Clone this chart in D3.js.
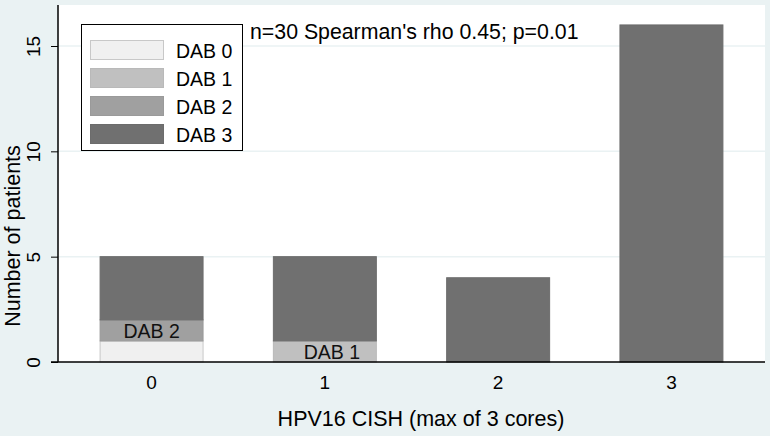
<!DOCTYPE html>
<html><head><meta charset="utf-8">
<script src="https://cdn.jsdelivr.net/npm/d3@7"></script>
<style>body{margin:0;background:#EAF2F3;}svg{display:block;font-family:Arial,"Liberation Sans",sans-serif;}</style>
</head><body>
<svg id="c" width="770" height="436"></svg>
<script>
const categories = ["0","1","2","3"];
const seriesNames = ["DAB 0","DAB 1","DAB 2","DAB 3"];
const dab0 = [1,0,0,0];
const dab1 = [0,1,0,0];
const dab2 = [1,0,0,0];
const dab3 = [3,4,4,16];
const yTicks = [0,5,10,15];
const colors = ["#F0F0F0","#C0C0C0","#A0A0A0","#707070"];
const barLabels = [{cat:"0", series:"DAB 2", text:"DAB 2", dx:0},{cat:"1", series:"DAB 1", text:"DAB 1", dx:7}];
const annotation = "n=30 Spearman's rho 0.45; p=0.01";

const svg = d3.select("#c");
const L=58, R=765, B=362, T=5;
const x = d3.scaleBand().domain(categories).range([L,R]).paddingInner(0.4).paddingOuter(0.24);
const y = d3.scaleLinear().domain([0,15]).range([B,46]);

svg.append("rect").attr("width",770).attr("height",436).attr("fill","#EAF2F3");
svg.append("rect").attr("x",L).attr("y",T).attr("width",R-L).attr("height",B-T).attr("fill","#fff");

// gridlines
svg.append("g").selectAll("line").data(yTicks.filter(d=>d>0)).join("line")
  .attr("x1",L).attr("x2",R).attr("y1",d=>y(d)).attr("y2",d=>y(d))
  .attr("stroke","#EAF2F3").attr("stroke-width",1.5);

const rows = categories.map((c,i)=>({cat:c,"DAB 0":dab0[i],"DAB 1":dab1[i],"DAB 2":dab2[i],"DAB 3":dab3[i]}));
const stack = d3.stack().keys(seriesNames)(rows);

stack.forEach((s,si)=>{
  svg.append("g").selectAll("rect").data(s.filter(d=>d[1]-d[0]>0)).join("rect")
    .attr("x",d=>x(d.data.cat)+0.5).attr("width",x.bandwidth()-1)
    .attr("y",d=>y(d[1])).attr("height",d=>y(d[0])-y(d[1]))
    .attr("fill",colors[si])
    .attr("stroke", si===0 ? "#C8C8C8" : d3.color(colors[si]).darker(0.1))
    .attr("stroke-width",1);
});

// bar labels
barLabels.forEach(b=>{
  const si = seriesNames.indexOf(b.series);
  const d = stack[si].find(e=>e.data.cat===b.cat);
  svg.append("text").attr("x",x(b.cat)+x.bandwidth()/2+b.dx).attr("y",(y(d[0])+y(d[1]))/2+7.5)
    .attr("text-anchor","middle").attr("font-size",19.5).attr("fill","#111").text(b.text);
});

// axes
const yAxis = svg.append("g").attr("transform",`translate(${L},0)`)
  .call(d3.axisLeft(y).tickValues(yTicks).tickSize(7).tickSizeOuter(0).tickPadding(0));
yAxis.select(".domain").remove();
yAxis.selectAll("line").attr("stroke","#000").attr("stroke-width",1);
yAxis.selectAll("text").remove();
yAxis.selectAll(".tick").append("text")
  .attr("transform","translate(-18,0) rotate(-90)").attr("text-anchor","middle")
  .attr("font-size",19).attr("fill","#000").attr("font-family","Arial,'Liberation Sans',sans-serif")
  .text(d=>d);
svg.append("line").attr("x1",L).attr("x2",L).attr("y1",B).attr("y2",T).attr("stroke","#000").attr("stroke-width",1.5);

const xAxis = svg.append("g").attr("transform",`translate(0,${B})`)
  .call(d3.axisBottom(x).tickSize(0).tickPadding(0));
xAxis.select(".domain").remove();
xAxis.selectAll("text").attr("font-size",19).attr("fill","#000").attr("dy",0).attr("y",27)
  .attr("font-family","Arial,'Liberation Sans',sans-serif");
svg.append("line").attr("x1",L-7).attr("x2",R).attr("y1",B).attr("y2",B).attr("stroke","#000").attr("stroke-width",1.5);

// axis titles
svg.append("text").attr("x",421).attr("y",426).attr("text-anchor","middle").attr("font-size",21.5).text("HPV16 CISH (max of 3 cores)");
svg.append("text").attr("transform","translate(20,236) rotate(-90)").attr("text-anchor","middle").attr("font-size",21.5).text("Number of patients");

// annotation
svg.append("text").attr("x",250).attr("y",39).attr("font-size",21.3).text(annotation);

// legend
const lg = svg.append("g");
lg.append("rect").attr("x",81.5).attr("y",24.5).attr("width",161).attr("height",126).attr("fill","#fff").attr("stroke","#000").attr("stroke-width",1);
seriesNames.forEach((n,i)=>{
  const yy = 40 + i*28;
  lg.append("rect").attr("x",90.5).attr("y",yy+0.5).attr("width",73).attr("height",19)
    .attr("fill",colors[i]).attr("stroke", i===0 ? "#C8C8C8" : d3.color(colors[i]).darker(0.1));
  lg.append("text").attr("x",176).attr("y",yy+18).attr("font-size",19.5).text(n);
});
</script>
</body></html>
